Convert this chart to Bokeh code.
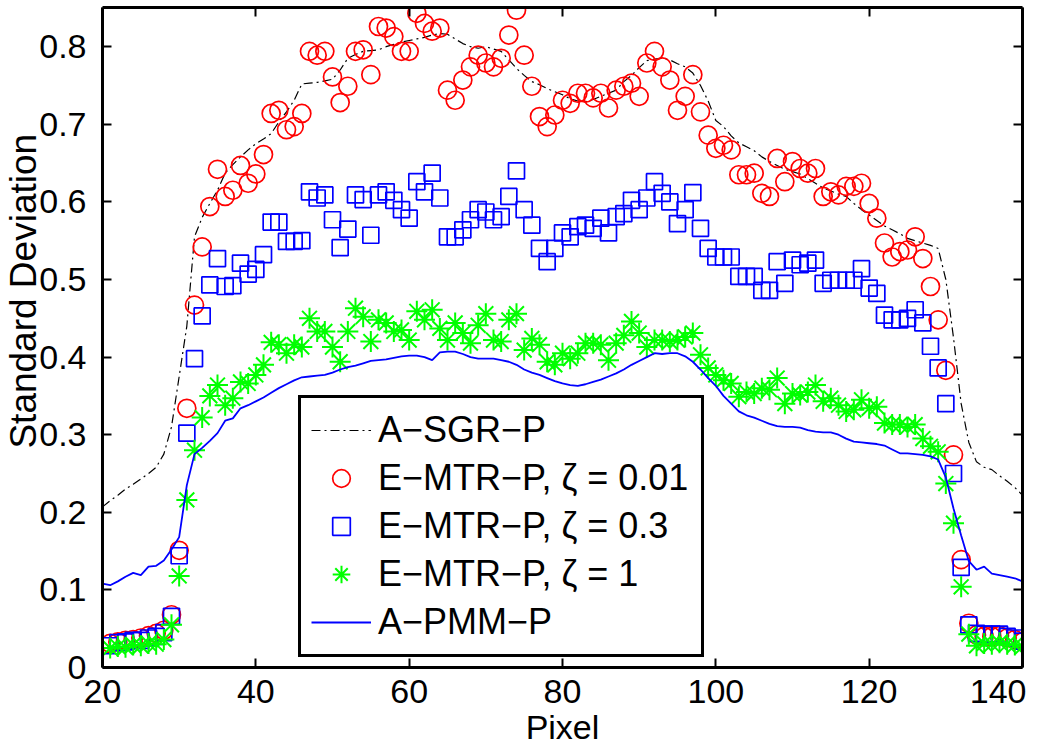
from bokeh.plotting import figure
from bokeh.models import Range1d, LinearAxis, FixedTicker, Legend, LegendItem
from bokeh.embed import file_html
from bokeh.resources import INLINE

FONT = "Liberation Sans"

# ---------------- data ----------------
line_pixels = list(range(20, 141))      # 20..140 (curves)
marker_pixels = list(range(21, 141))    # 21..140 (markers)

a_sgr_p = [0.207, 0.215, 0.222, 0.230, 0.236, 0.243, 0.250, 0.258, 0.275, 0.310,
           0.375, 0.440, 0.555, 0.580, 0.598, 0.615, 0.637, 0.648, 0.658, 0.667,
           0.675, 0.681, 0.688, 0.703, 0.716, 0.731, 0.752, 0.753, 0.754, 0.756,
           0.758, 0.770, 0.785, 0.790, 0.794, 0.795, 0.796, 0.800, 0.803, 0.806,
           0.808, 0.810, 0.812, 0.815, 0.817, 0.816, 0.810, 0.804, 0.800, 0.798,
           0.800, 0.797, 0.794, 0.783, 0.772, 0.763, 0.755, 0.751, 0.746, 0.742,
           0.738, 0.733, 0.730, 0.729, 0.732, 0.736, 0.740, 0.744, 0.755, 0.763,
           0.773, 0.782, 0.784, 0.785, 0.783, 0.778, 0.774, 0.766, 0.750, 0.730,
           0.705, 0.697, 0.685, 0.676, 0.671, 0.666, 0.658, 0.652, 0.647, 0.642,
           0.639, 0.636, 0.630, 0.624, 0.618, 0.614, 0.610, 0.607, 0.598, 0.590,
           0.583, 0.576, 0.569, 0.564, 0.559, 0.553, 0.550, 0.547, 0.544, 0.540,
           0.500, 0.425, 0.340, 0.290, 0.265, 0.258, 0.255, 0.247, 0.240, 0.232,
           0.222]

a_pmm_p = [0.108, 0.106, 0.111, 0.117, 0.122, 0.119, 0.130, 0.131, 0.138, 0.152,
           0.168, 0.235, 0.275, 0.283, 0.292, 0.302, 0.318, 0.321, 0.334, 0.338,
           0.343, 0.348, 0.354, 0.360, 0.365, 0.370, 0.374, 0.375, 0.376, 0.377,
           0.380, 0.384, 0.387, 0.389, 0.392, 0.395, 0.396, 0.397, 0.399, 0.401,
           0.402, 0.402, 0.400, 0.396, 0.406, 0.407, 0.407, 0.404, 0.400, 0.398,
           0.398, 0.398, 0.396, 0.394, 0.390, 0.384, 0.380, 0.377, 0.373, 0.369,
           0.366, 0.364, 0.363, 0.365, 0.368, 0.371, 0.375, 0.379, 0.384, 0.390,
           0.395, 0.400, 0.405, 0.404, 0.405, 0.405, 0.401, 0.394, 0.384, 0.373,
           0.363, 0.350, 0.340, 0.330, 0.325, 0.322, 0.318, 0.314, 0.311, 0.310,
           0.310, 0.309, 0.306, 0.304, 0.303, 0.303, 0.300, 0.295, 0.291, 0.290,
           0.289, 0.288, 0.286, 0.281, 0.276, 0.276, 0.275, 0.274, 0.272, 0.268,
           0.245, 0.205, 0.170, 0.137, 0.126, 0.130, 0.121, 0.119, 0.117, 0.115,
           0.111]

e_mtr_001 = [0.031, 0.033, 0.035, 0.036, 0.038, 0.041, 0.044, 0.048, 0.068,
             0.151, 0.334, 0.467, 0.542, 0.594, 0.642, 0.607, 0.615, 0.647, 0.624, 0.636,
             0.661, 0.714, 0.718, 0.693, 0.697, 0.714, 0.794, 0.789, 0.794, 0.761,
             0.728, 0.749, 0.794, 0.796, 0.764, 0.826, 0.824, 0.813, 0.794, 0.794,
             0.843, 0.830, 0.820, 0.824, 0.744, 0.731, 0.757, 0.774, 0.789, 0.779,
             0.774, 0.785, 0.815, 0.847, 0.789, 0.749, 0.710, 0.697, 0.712, 0.731,
             0.727, 0.740, 0.740, 0.734, 0.740, 0.721, 0.744, 0.749, 0.753, 0.736,
             0.779, 0.794, 0.774, 0.757, 0.718, 0.736, 0.764, 0.716, 0.686, 0.669,
             0.673, 0.667, 0.635, 0.635, 0.637, 0.611, 0.607, 0.656, 0.626, 0.652,
             0.643, 0.637, 0.643, 0.607, 0.613, 0.609, 0.620, 0.620, 0.624, 0.598,
             0.579, 0.547, 0.529, 0.536, 0.538, 0.555, 0.527, 0.491, 0.448, 0.383,
             0.274, 0.139, 0.057, 0.042, 0.040, 0.040, 0.041, 0.038, 0.036, 0.033]

e_mtr_03 = [0.028, 0.032, 0.033, 0.035, 0.035, 0.038, 0.040, 0.045, 0.066,
            0.144, 0.302, 0.398, 0.453, 0.493, 0.527, 0.491, 0.492, 0.521, 0.507, 0.513,
            0.532, 0.574, 0.574, 0.549, 0.549, 0.550, 0.613, 0.605, 0.609, 0.577,
            0.541, 0.565, 0.609, 0.603, 0.557, 0.609, 0.613, 0.602, 0.590, 0.579,
            0.626, 0.613, 0.637, 0.605, 0.555, 0.555, 0.564, 0.577, 0.590, 0.587,
            0.577, 0.581, 0.607, 0.640, 0.590, 0.570, 0.540, 0.523, 0.540, 0.560,
            0.555, 0.568, 0.570, 0.566, 0.579, 0.560, 0.581, 0.585, 0.602, 0.590,
            0.605, 0.626, 0.611, 0.600, 0.572, 0.590, 0.612, 0.566, 0.540, 0.529,
            0.529, 0.529, 0.504, 0.504, 0.504, 0.486, 0.486, 0.523, 0.495, 0.525,
            0.519, 0.521, 0.525, 0.495, 0.499, 0.499, 0.499, 0.499, 0.514, 0.489,
            0.482, 0.454, 0.448, 0.448, 0.450, 0.461, 0.444, 0.414, 0.386, 0.340,
            0.250, 0.129, 0.055, 0.044, 0.043, 0.043, 0.043, 0.040, 0.038, 0.034]

e_mtr_1 = [0.025, 0.027, 0.026, 0.029, 0.028, 0.031, 0.030, 0.036, 0.055,
           0.118, 0.216, 0.280, 0.322, 0.350, 0.364, 0.338, 0.347, 0.368, 0.366, 0.377,
           0.390, 0.419, 0.416, 0.405, 0.416, 0.413, 0.450, 0.433, 0.433, 0.413,
           0.394, 0.433, 0.463, 0.452, 0.420, 0.448, 0.444, 0.433, 0.435, 0.422,
           0.459, 0.448, 0.461, 0.437, 0.422, 0.444, 0.431, 0.418, 0.441, 0.456,
           0.422, 0.420, 0.448, 0.456, 0.409, 0.424, 0.416, 0.394, 0.390, 0.405,
           0.398, 0.405, 0.418, 0.418, 0.416, 0.396, 0.418, 0.428, 0.446, 0.431,
           0.413, 0.422, 0.422, 0.420, 0.422, 0.426, 0.431, 0.403, 0.386, 0.377,
           0.370, 0.366, 0.349, 0.355, 0.353, 0.360, 0.358, 0.373, 0.340, 0.353,
           0.351, 0.355, 0.364, 0.343, 0.347, 0.338, 0.330, 0.332, 0.345, 0.334,
           0.336, 0.315, 0.313, 0.313, 0.310, 0.313, 0.295, 0.285, 0.278, 0.237,
           0.186, 0.104, 0.043, 0.028, 0.031, 0.030, 0.032, 0.030, 0.029, 0.027]

x_ticks = [20, 40, 60, 80, 100, 120, 140]
y_ticks = [0, 0.1, 0.2, 0.3, 0.4, 0.5, 0.6, 0.7, 0.8]
y_tick_labels = {0: "0"}

x_title = "Pixel"
y_title = "Standard Deviation"

labels = ["A\u2212SGR\u2212P",
          "E\u2212MTR\u2212P, \u03b6 = 0.01",
          "E\u2212MTR\u2212P, \u03b6 = 0.3",
          "E\u2212MTR\u2212P, \u03b6 = 1",
          "A\u2212PMM\u2212P"]

# ---------------- figure ----------------
p = figure(frame_width=920, frame_height=660,
           x_range=Range1d(20, 140), y_range=Range1d(0, 0.8505),
           output_backend="svg", toolbar_location=None,
           min_border_left=100, min_border_top=7, min_border_right=4, min_border_bottom=0)
p.xgrid.visible = False
p.ygrid.visible = False
p.outline_line_color = None
p.background_fill_color = "white"
p.border_fill_color = "white"

def style_axis(ax, ticks, show_labels):
    ax.ticker = FixedTicker(ticks=ticks)
    ax.axis_line_width = 3
    ax.axis_line_color = "black"
    ax.major_tick_in = 9
    ax.major_tick_out = 0
    ax.major_tick_line_width = 2
    ax.major_tick_line_color = "black"
    ax.minor_tick_line_color = None
    ax.major_label_text_font = FONT
    if show_labels:
        ax.major_label_text_font_size = "34px"
        ax.major_label_text_color = "black"
    else:
        ax.major_label_text_font_size = "1px"
        ax.major_label_text_color = None
        ax.major_label_standoff = 0

xa = p.xaxis[0]
style_axis(xa, x_ticks, True)
xa.major_label_standoff = 12
xa.axis_label = x_title
xa.axis_label_text_font = FONT
xa.axis_label_text_font_size = "34px"
xa.axis_label_text_font_style = "normal"
xa.axis_label_text_color = "black"
xa.axis_label_standoff = 2

ya = p.yaxis[0]
style_axis(ya, y_ticks, True)
ya.major_label_standoff = 16
ya.major_label_overrides = y_tick_labels
# leading no-break spaces lift the title a little above the frame centre
ya.axis_label = "\u00a0" * 9 + y_title
ya.axis_label_text_font = FONT
ya.axis_label_text_font_size = "37px"
ya.axis_label_text_font_style = "normal"
ya.axis_label_text_color = "black"
ya.axis_label_standoff = -8

top_ax = LinearAxis()
style_axis(top_ax, x_ticks, False)
p.add_layout(top_ax, "above")
right_ax = LinearAxis()
style_axis(right_ax, y_ticks, False)
p.add_layout(right_ax, "right")

r_sgr = p.line(line_pixels, a_sgr_p, line_color="black", line_width=1.2, line_dash="9 4 2 4")
r_c = p.scatter(marker_pixels, e_mtr_001, marker="circle", size=18, fill_color=None,
                line_color="#ff0000", line_width=1.7)
r_s = p.scatter(marker_pixels, e_mtr_03, marker="square", size=16, fill_color=None,
                line_color="#0000ff", line_width=1.7)
r_a = p.scatter(marker_pixels, e_mtr_1, marker="asterisk", size=21,
                line_color="#00ff00", line_width=2)
r_pmm = p.line(line_pixels, a_pmm_p, line_color="#0000ff", line_width=1.8)

legend = Legend(items=[LegendItem(label=labels[0], renderers=[r_sgr]),
                       LegendItem(label=labels[1], renderers=[r_c]),
                       LegendItem(label=labels[2], renderers=[r_s]),
                       LegendItem(label=labels[3], renderers=[r_a]),
                       LegendItem(label=labels[4], renderers=[r_pmm])],
                location=(196, 10),
                label_text_font=FONT, label_text_font_size="36px",
                label_text_color="black",
                glyph_width=60, glyph_height=44, label_height=44, label_width=313,
                spacing=4, padding=10, label_standoff=7, margin=0,
                border_line_color="black", border_line_width=3, border_line_alpha=1.0,
                background_fill_color="white", background_fill_alpha=1.0)
p.add_layout(legend)

open("out.html", "w").write(file_html(p, INLINE))
